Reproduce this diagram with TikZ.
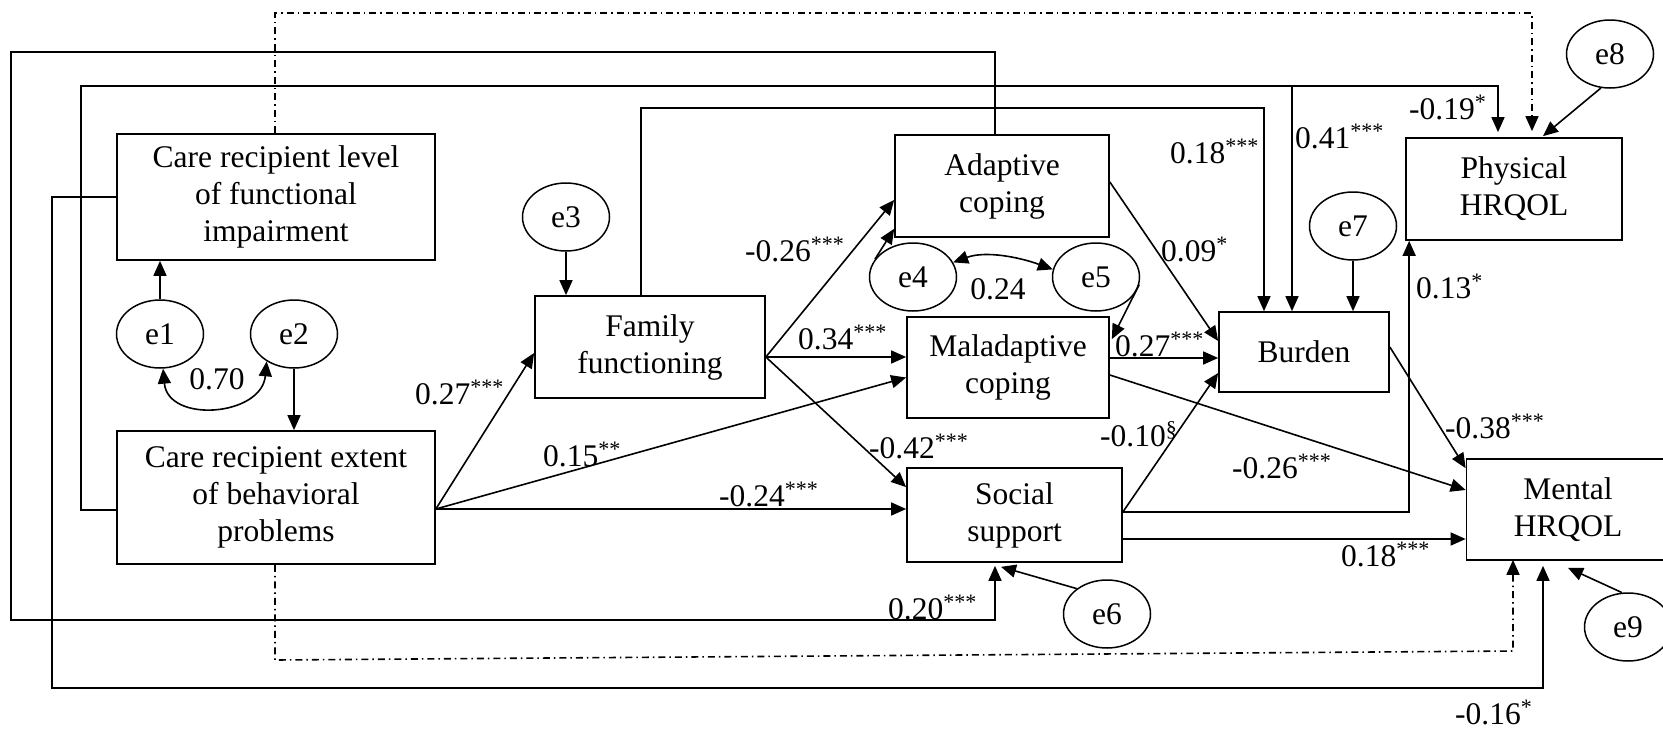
\documentclass[tikz,border=0pt]{standalone}
\usepackage{fontspec}
\setmainfont{Liberation Serif}
\usetikzlibrary{arrows.meta,shapes.geometric,calc}
\newcommand\fs{\fontsize{31.5}{37}\selectfont}
\tikzset{
 box/.style={draw, line width=1.7pt, rectangle, inner sep=0pt, align=center, font=\fs},
 err/.style={draw, line width=1.5pt, ellipse, minimum width=87pt, minimum height=68pt, inner sep=0pt, font=\fs},
 arr/.style={line width=1.6pt, -{Triangle[length=15pt,width=13pt]}},
 darr/.style={line width=1.6pt, {Triangle[length=15pt,width=13pt]}-{Triangle[length=15pt,width=13pt]}},
 dd/.style={dash pattern=on 7pt off 4pt on 1.5pt off 4pt},
 lab/.style={anchor=base west, inner sep=0pt, font=\fs},
 labc/.style={anchor=base, inner sep=0pt, font=\fs},
}
\begin{document}
\begin{tikzpicture}[x=1pt,y=-1pt]
\useasboundingbox (0,0) rectangle (1663,731);
% boxes
\node[box, minimum width=318pt, minimum height=126pt] (lvl) at (276,197) {Care recipient level\\of functional\\impairment};
\node[box, minimum width=318pt, minimum height=133pt] (ext) at (276,497.5) {Care recipient extent\\of behavioral\\problems};
\node[box, minimum width=230pt, minimum height=102pt] (fam) at (650,347) {Family\\functioning};
\node[box, minimum width=214pt, minimum height=102pt] (ada) at (1002,186) {Adaptive\\coping};
\node[box, minimum width=202pt, minimum height=101pt] (mal) at (1008,367.5) {Maladaptive\\coping};
\node[box, minimum width=215pt, minimum height=94pt] (soc) at (1014.5,515) {Social\\support};
\node[box, minimum width=170pt, minimum height=80pt] (bur) at (1304,352) {Burden};
\node[box, minimum width=216pt, minimum height=102pt] (phy) at (1514,189) {Physical\\HRQOL};
\node[box, minimum width=203pt, minimum height=101pt] (men) at (1568,509.5) {Mental\\HRQOL};
% error terms
\node[err] (e1) at (160,334) {e1};
\node[err] (e2) at (294,334) {e2};
\node[err] (e3) at (566,217) {e3};
\node[err] (e4) at (913,277) {e4};
\node[err] (e5) at (1096,277) {e5};
\node[err] (e6) at (1107,614) {e6};
\node[err] (e7) at (1353,226) {e7};
\node[err] (e8) at (1610,54) {e8};
\node[err] (e9) at (1628,627) {e9};
% routing coordinates
\coordinate (c1) at (11,52);
\coordinate (c2) at (11,620);
\coordinate (c3) at (81,86);
\coordinate (c4) at (1292,86);
\coordinate (c5) at (52,688);
\coordinate (c6) at (275,13);
\coordinate (c7) at (275,660);
\coordinate (c8) at (1513,651);
\coordinate (c9) at (641,108);
\coordinate (famout) at ([yshift=-10pt]fam.east);
\coordinate (extout) at ([yshift=-11.5pt]ext.east);
\coordinate (malout) at ([yshift=9.5pt]mal.east);
\coordinate (socout) at ([yshift=3pt]soc.east);
\coordinate (socout2) at ([yshift=-24pt]soc.east);
% error arrows
\draw[arr] (e1.north) -- (e1.north |- lvl.south);
\draw[arr] (e2.south) -- (e2.south |- ext.north);
\draw[darr] (e1.-85) .. controls +(5,55) and +(-5,55) .. (e2.-135);
\draw[arr] (e3.south) -- (e3.south |- fam.north);
\draw[arr] (e4.155) -- ([yshift=9pt]ada.south west);
\draw[darr] (e4.20) .. controls +(33,-12) and +(-33,-12) .. (e5.170);
\draw[arr] (e5.-10) -- ([xshift=2pt,yshift=-23pt]mal.north east);
\draw[arr] (e6.140) -- ([xshift=-13.5pt,yshift=-4pt]soc.south);
\draw[arr] (e7.south) -- (e7.south |- bur.north);
\draw[arr] (e8.-105) -- ([xshift=29pt,yshift=1pt]phy.north);
\draw[arr] (e9.100) -- ([yshift=-7pt]men.south);
% direct paths
\draw[arr] (famout) -- ([yshift=-14pt]ada.west);
\draw[arr] (famout) -- (famout -| mal.west);
\draw[arr] (famout) -- ([yshift=-20pt]soc.north west);
\draw[arr] (extout) -- ([yshift=-6pt]fam.west);
\draw[arr] (extout) -- ([yshift=-10pt]mal.west);
\draw[arr] (extout) -- (extout -| soc.west);
\draw[arr] ([yshift=4pt]ada.east) -- ([yshift=11pt]bur.west);
\draw[arr] (malout) -- (malout -| bur.west);
\draw[arr] ([yshift=-7.5pt]mal.east) -- ([yshift=19.5pt]men.west);
\draw[arr] (socout) -- ([yshift=-21pt]bur.west);
\draw[arr] (socout) -| ([xshift=4pt]phy.south west);
\draw[arr] (socout2) -- (socout2 -| men.west);
\draw[arr] ([yshift=5pt]bur.east) -- ([yshift=-10pt]men.north west);
% routed paths
\draw[arr] ([xshift=-7pt]ada.north) |- (c1) -- (c2) -| ([xshift=-19.5pt,yshift=-3pt]soc.south);
\draw[arr] ([yshift=-12.5pt]ext.west) -| (c3) -| ([xshift=-16pt,yshift=5pt]phy.north);
\draw[arr] (c4) -- ([xshift=-12pt]bur.north);
\draw[arr] ([xshift=-9pt]fam.north) -- (c9) -| ([xshift=-40pt]bur.north);
\draw[arr] (lvl.west) -| (c5) -| ([xshift=-25pt,yshift=-5pt]men.south);
\draw[arr,dd] ([xshift=-1pt]lvl.north) -- (c6) -| ([xshift=18pt,yshift=6pt]phy.north);
\draw[arr,dd] ([xshift=-1pt]ext.south) -- (c7) -- (c8) -- ([xshift=-55pt,yshift=1pt]men.south);
% labels
\node[labc] (l070) at (217,389) {0.70};
\node[labc] (l024c) at (998,299) {0.24};
\node[lab] (l027a) at (415,404) {0.27\textsuperscript{***}};
\node[lab] (l015) at (543,466) {0.15\textsuperscript{**}};
\node[lab] (l024) at (719,506) {-0.24\textsuperscript{***}};
\node[lab] (l026a) at (745,261) {-0.26\textsuperscript{***}};
\node[lab] (l034) at (798,349) {0.34\textsuperscript{***}};
\node[lab] (l042) at (869,458) {-0.42\textsuperscript{***}};
\node[lab] (l020) at (888,619) {0.20\textsuperscript{***}};
\node[lab] (l018a) at (1170,163) {0.18\textsuperscript{***}};
\node[lab] (l041) at (1295,148) {0.41\textsuperscript{***}};
\node[lab] (l019) at (1409,119) {-0.19\textsuperscript{*}};
\node[lab] (l009) at (1161,261) {0.09\textsuperscript{*}};
\node[lab] (l027b) at (1115,356) {0.27\textsuperscript{***}};
\node[lab] (l013) at (1416,298) {0.13\textsuperscript{*}};
\node[lab] (l010) at (1100,446) {-0.10\textsuperscript{\S}};
\node[lab] (l026b) at (1232,478) {-0.26\textsuperscript{***}};
\node[lab] (l038) at (1445,438) {-0.38\textsuperscript{***}};
\node[lab] (l018b) at (1341,566) {0.18\textsuperscript{***}};
\node[lab] (l016) at (1455,724) {-0.16\textsuperscript{*}};
\end{tikzpicture}
\end{document}
